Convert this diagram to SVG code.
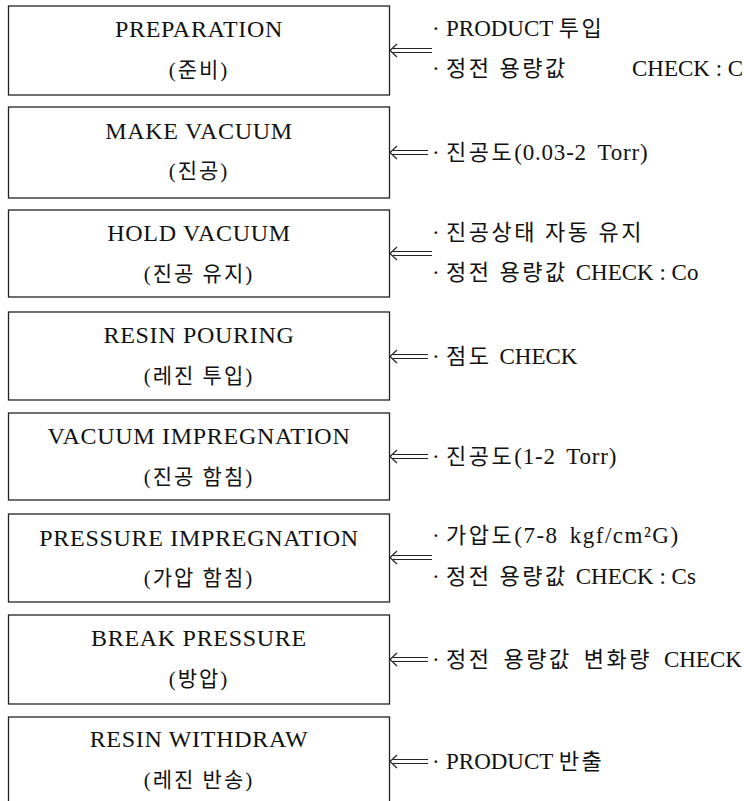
<svg xmlns="http://www.w3.org/2000/svg" width="744" height="801" viewBox="0 0 744 801">
<style>
.box{fill:#fff;stroke:#222;stroke-width:1.3}
.t{font-family:"Liberation Serif","Noto Sans CJK KR",serif;font-size:24px;fill:#111;text-anchor:middle;letter-spacing:0.7px}
.k{font-family:"Liberation Serif","Noto Sans CJK KR",serif;font-size:21px;fill:#111;text-anchor:middle;letter-spacing:2px}
.r{font-family:"Liberation Serif","Noto Sans CJK KR",serif;font-size:23px;fill:#111}
.h{font-size:22px;letter-spacing:2.5px}
.w{word-spacing:4px}
.ar{fill:none;stroke:#222;stroke-width:1.2}
</style>
<rect width="744" height="801" fill="#fff"/>
<g id="n1"><rect class="box" x="8.5" y="6" width="381" height="89"/><text class="t" x="199" y="37">PREPARATION</text><text class="k" x="199" y="77">(준비)</text></g>
<g id="n2"><rect class="box" x="8.5" y="107" width="381" height="91"/><text class="t" x="199" y="139">MAKE VACUUM</text><text class="k" x="199" y="178">(진공)</text></g>
<g id="n3"><rect class="box" x="8.5" y="210" width="381" height="87"/><text class="t" x="199" y="241">HOLD VACUUM</text><text class="k" x="199" y="281">(진공 유지)</text></g>
<g id="n4"><rect class="box" x="8.5" y="312" width="381" height="88"/><text class="t" x="199" y="343">RESIN POURING</text><text class="k" x="199" y="383">(레진 투입)</text></g>
<g id="n5"><rect class="box" x="8.5" y="413" width="381" height="87"/><text class="t" x="199" y="444">VACUUM IMPREGNATION</text><text class="k" x="199" y="484">(진공 함침)</text></g>
<g id="n6"><rect class="box" x="8.5" y="514" width="381" height="88"/><text class="t" x="199" y="546">PRESSURE IMPREGNATION</text><text class="k" x="199" y="585">(가압 함침)</text></g>
<g id="n7"><rect class="box" x="8.5" y="615" width="381" height="89"/><text class="t" x="199" y="646">BREAK PRESSURE</text><text class="k" x="199" y="686">(방압)</text></g>
<g id="n8"><rect class="box" x="8.5" y="717" width="381" height="92"/><text class="t" x="199" y="747">RESIN WITHDRAW</text><text class="k" x="199" y="787">(레진 반송)</text></g>
<g id="notes">
<text class="r" x="432" y="36">·<tspan x="446">PRODUCT </tspan><tspan class="h">투입</tspan></text>
<text class="r" x="432" y="76">·<tspan x="446" class="h">정전 용량값</tspan><tspan x="632">CHECK : C</tspan></text>
<text class="r w" x="432" y="160">·<tspan x="446" class="h">진공도</tspan><tspan letter-spacing="0.8">(0.03-2 Torr)</tspan></text>
<text class="r" x="432" y="240">·<tspan x="446" class="h">진공상태 자동 유지</tspan></text>
<text class="r" x="432" y="280">·<tspan x="446" class="h">정전 용량값 </tspan>CHECK : Co</text>
<text class="r" x="432" y="364">·<tspan x="446" class="h">점도 </tspan>CHECK</text>
<text class="r w" x="432" y="464">·<tspan x="446" class="h">진공도</tspan><tspan letter-spacing="0.8">(1-2 Torr)</tspan></text>
<text class="r w" x="432" y="543">·<tspan x="446" class="h">가압도</tspan><tspan letter-spacing="1.5">(7-8 kgf/cm²G)</tspan></text>
<text class="r" x="432" y="584">·<tspan x="446" class="h">정전 용량값 </tspan>CHECK : Cs</text>
<text class="r" x="432" y="667">·<tspan x="446" class="h" word-spacing="4">정전 용량값 변화량 </tspan>CHECK</text>
<text class="r" x="432" y="769">·<tspan x="446">PRODUCT </tspan><tspan class="h">반출</tspan></text>
</g>
<g id="connectors">
<path class="ar" d="M397,44 L390,50.5 L397,57 M393,48.5 H432 M393,52.5 H432"/>
<path class="ar" d="M397,146 L390,152.5 L397,159 M393,150.5 H428 M393,154.5 H428"/>
<path class="ar" d="M397,247 L390,253.5 L397,260 M393,251.5 H432 M393,255.5 H432"/>
<path class="ar" d="M397,350 L390,356.5 L397,363 M393,354.5 H428 M393,358.5 H428"/>
<path class="ar" d="M397,450 L390,456.5 L397,463 M393,454.5 H428 M393,458.5 H428"/>
<path class="ar" d="M397,551 L390,557.5 L397,564 M393,555.5 H432 M393,559.5 H432"/>
<path class="ar" d="M397,653 L390,659.5 L397,666 M393,657.5 H428 M393,661.5 H428"/>
<path class="ar" d="M397,755 L390,761.5 L397,768 M393,759.5 H428 M393,763.5 H428"/>
</g>
</svg>
